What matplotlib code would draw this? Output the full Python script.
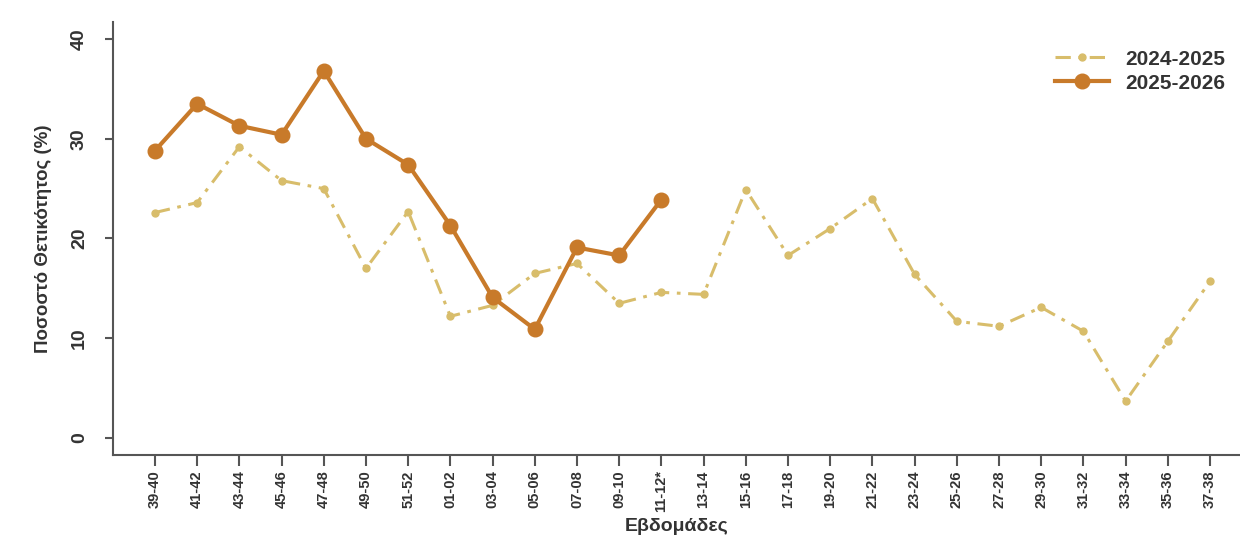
import matplotlib
matplotlib.use("Agg")
from matplotlib import pyplot as plt

plt.rcParams['font.family'] = ['Liberation Sans', 'DejaVu Sans']

weeks = ["39-40", "41-42", "43-44", "45-46", "47-48", "49-50", "51-52", "01-02",
         "03-04", "05-06", "07-08", "09-10", "11-12*", "13-14", "15-16", "17-18",
         "19-20", "21-22", "23-24", "25-26", "27-28", "29-30", "31-32", "33-34",
         "35-36", "37-38"]

season_2425 = [22.6, 23.6, 29.2, 25.8, 25.0, 17.0, 22.7, 12.2, 13.3, 16.5, 17.5, 13.5,
               14.6, 14.4, 24.9, 18.3, 21.0, 24.0, 16.4, 11.7, 11.2, 13.1, 10.7, 3.7,
               9.7, 15.7]
season_2526 = [28.8, 33.5, 31.3, 30.4, 36.8, 30.0, 27.4, 21.3, 14.1, 10.9, 19.1, 18.3, 23.9]

c_old = '#D8BD6B'
c_new = '#C87A2A'
axis_col = '#555555'
text_col = '#333333'

fig = plt.figure(figsize=(12.4, 5.54), dpi=100)
ax = fig.add_axes([0.0911, 0.1787, 0.9089, 0.7816])

x_old = list(range(len(season_2425)))
x_new = list(range(len(season_2526)))

ax.plot(x_old, season_2425, color=c_old, lw=2.2, ls=(0, (5, 2.5, 1.2, 2.5)),
        marker='o', ms=5, label='2024-2025')
ax.plot(x_new, season_2526, color=c_new, lw=3, marker='o', ms=10.5, label='2025-2026')

ax.set_xlim(-0.995, 25.71)
ax.set_ylim(-1.7, 41.7)
ax.set_xticks(range(len(weeks)))
ax.set_xticklabels(weeks, rotation=90, fontsize=10.5, fontweight='bold', color=text_col)
ax.set_yticks([0, 10, 20, 30, 40])
ax.set_yticklabels(['0', '10', '20', '30', '40'], rotation=90, va='center',
                   fontsize=14, fontweight='bold', color=text_col)

for s in ['top', 'right']:
    ax.spines[s].set_visible(False)
for s in ['left', 'bottom']:
    ax.spines[s].set_color(axis_col)
    ax.spines[s].set_linewidth(1.5)
ax.tick_params(axis='x', length=8, width=1.5, color=axis_col, pad=3)
ax.tick_params(axis='y', length=6, width=1.5, color=axis_col, pad=12)

ax.set_xlabel('Εβδομάδες', fontsize=14, fontweight='bold', color=text_col, labelpad=4)
ax.set_ylabel('Ποσοστό Θετικότητος (%)', fontsize=13.5, fontweight='bold',
              color=text_col, labelpad=14)

leg = ax.legend(loc='upper right', bbox_to_anchor=(1.0, 0.97), frameon=False,
                prop={'size': 15, 'weight': 'bold'}, handlelength=2.6,
                labelspacing=0.25, borderaxespad=0.3)
for t in leg.get_texts():
    t.set_color(text_col)

fig.savefig('out.png', dpi=100)
